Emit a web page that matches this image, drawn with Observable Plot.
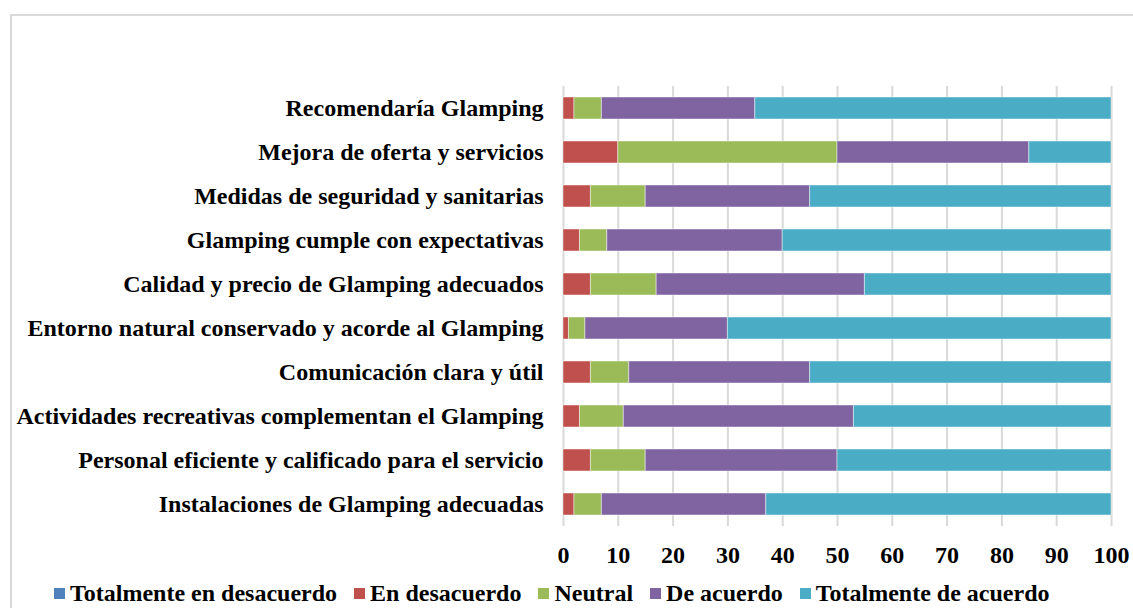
<!DOCTYPE html>
<html>
<head>
<meta charset="utf-8">
<script src="https://cdn.jsdelivr.net/npm/d3@7"></script>
<script src="https://cdn.jsdelivr.net/npm/@observablehq/plot@0.6"></script>
<style>
  html, body { margin: 0; padding: 0; background: #fff; overflow: hidden; }
  #wrap { position: relative; width: 1133px; height: 608px; overflow: hidden; }
  #frame { position: absolute; left: 10px; top: 14px; width: 1200px; height: 700px; border: 2px solid #d9d9d9; box-sizing: border-box; }
  #plot { position: absolute; left: 0; top: 0; }
  #legend { position: absolute; left: 54px; top: 580px; display: flex; align-items: center;
    font-family: "Liberation Serif", "Times New Roman", serif; font-weight: bold; font-size: 24px; color: #000; white-space: nowrap; }
  #legend .item { display: flex; align-items: center; margin-right: 17px; }
  #legend .sw { width: 11px; height: 11px; margin-right: 5px; }
</style>
</head>
<body>
<div id="wrap">
  <div id="frame"></div>
  <div id="plot"></div>
  <div id="legend"></div>
</div>
<script>
const categories = [
  "Recomendaría Glamping",
  "Mejora de oferta y servicios",
  "Medidas de seguridad y sanitarias",
  "Glamping cumple con expectativas",
  "Calidad y precio de Glamping adecuados",
  "Entorno natural conservado y acorde al Glamping",
  "Comunicación clara y útil",
  "Actividades recreativas complementan el Glamping",
  "Personal eficiente y calificado para el servicio",
  "Instalaciones de Glamping adecuadas"
];
const seriesNames = ["Totalmente en desacuerdo", "En desacuerdo", "Neutral", "De acuerdo", "Totalmente de acuerdo"];
const totDesacuerdo = [0, 0, 0, 0, 0, 0, 0, 0, 0, 0];
const enDesacuerdo  = [2, 10, 5, 3, 5, 1, 5, 3, 5, 2];
const neutral       = [5, 40, 10, 5, 12, 3, 7, 8, 10, 5];
const deAcuerdo     = [28, 35, 30, 32, 38, 26, 33, 42, 35, 30];
const totAcuerdo    = [65, 15, 55, 60, 45, 70, 55, 47, 50, 63];
const xTicks = [0, 10, 20, 30, 40, 50, 60, 70, 80, 90, 100];
const colors = ["#4F81BD", "#C0504D", "#9BBB59", "#8064A2", "#4BACC6"];

const seriesValues = [totDesacuerdo, enDesacuerdo, neutral, deAcuerdo, totAcuerdo];
const data = [];
categories.forEach((c, i) => {
  seriesNames.forEach((s, j) => {
    data.push({category: c, serie: s, value: seriesValues[j][i]});
  });
});

const font = "'Liberation Serif', 'Times New Roman', serif";
const chart = Plot.plot({
  width: 1133,
  height: 578,
  marginLeft: 563,
  marginRight: 22,
  marginTop: 86,
  marginBottom: 52,
  style: {fontFamily: font, fontSize: "24px", fontWeight: "bold", color: "#000", background: "transparent", overflow: "visible"},
  x: {domain: [0, 100]},
  y: {domain: categories, paddingInner: 0.5, paddingOuter: 0.25},
  color: {domain: seriesNames, range: colors},
  marks: [
    Plot.ruleX(xTicks, {stroke: "#d9d9d9", strokeWidth: 2}),
    Plot.barX(data, Plot.stackX({
      filter: d => d.value > 0,
      x: "value", y: "category", fill: "serie",
      stroke: "#ffffff", strokeOpacity: 0.45, strokeWidth: 1
    })),
    Plot.axisY({tickSize: 0, tickPadding: 20, fontSize: 24, fontWeight: "bold", fontFamily: font, label: null}),
    Plot.axisX({ticks: xTicks, tickSize: 0, tickPadding: 19, fontSize: 24, fontWeight: "bold", fontFamily: font, label: null})
  ]
});
document.getElementById("plot").appendChild(chart);

const legend = document.getElementById("legend");
seriesNames.forEach((s, j) => {
  const item = document.createElement("div");
  item.className = "item";
  const sw = document.createElement("span");
  sw.className = "sw";
  sw.style.background = colors[j];
  const t = document.createElement("span");
  t.textContent = s;
  item.appendChild(sw);
  item.appendChild(t);
  legend.appendChild(item);
});
</script>
</body>
</html>
